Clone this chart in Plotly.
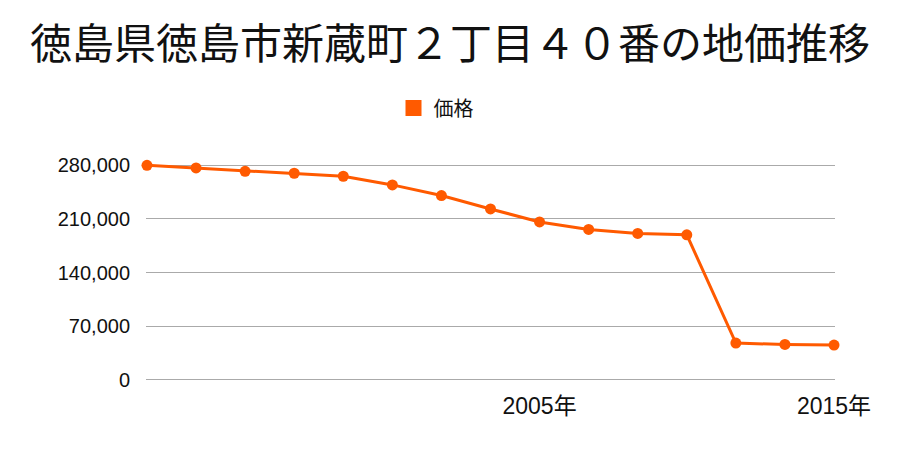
import plotly.graph_objects as go

title = "徳島県徳島市新蔵町２丁目４０番の地価推移"
series_name = "価格"
years = ["1997年", "1998年", "1999年", "2000年", "2001年", "2002年", "2003年", "2004年",
         "2005年", "2007年", "2009年", "2011年", "2013年", "2014年", "2015年"]
prices = [280000, 276500, 272200, 269600, 265700, 254400, 240500, 223000,
          206000, 196300, 191000, 189200, 47800, 46000, 45200]
x_tick_labels = ["2005年", "2015年"]
y_tick_values = [0, 70000, 140000, 210000, 280000]

color = "#FF5A00"
cjk = "Noto Sans CJK JP, sans-serif"
latin = "Liberation Sans, Noto Sans CJK JP, sans-serif"

fig = go.Figure()
fig.add_trace(go.Scatter(
    x=years, y=prices, mode="lines+markers", name=series_name,
    line=dict(color=color, width=3),
    marker=dict(color=color, size=11),
    cliponaxis=False, showlegend=False,
))
fig.add_trace(go.Scatter(
    x=[None], y=[None], mode="markers", name=series_name,
    marker=dict(color=color, size=16, symbol="square"),
    showlegend=True,
))

fig.update_layout(
    width=900, height=450,
    margin=dict(l=146, r=65, t=163, b=68),
    paper_bgcolor="white", plot_bgcolor="white",
    font=dict(family=latin, color="#111", size=22),
    title=dict(text=title, x=0.5, xanchor="center", y=1 - 44 / 450, yanchor="middle",
               font=dict(size=42, family=cjk, color="#111")),
    legend=dict(orientation="h", xref="container", yref="container",
                x=436 / 900, xanchor="center", y=1 - 108 / 450, yanchor="middle",
                font=dict(size=20, family=cjk), itemwidth=30),
    xaxis=dict(type="category", range=[-0.02, len(years) - 1 + 0.02],
               tickmode="array", tickvals=x_tick_labels, ticktext=x_tick_labels,
               showgrid=False, showline=False, zeroline=False, ticks="",
               ticklabelstandoff=8, tickfont=dict(size=23)),
    yaxis=dict(range=[-3000, 283000], tickvals=y_tick_values, tickformat=",d",
               showgrid=True, gridcolor="#aaaaaa", gridwidth=1,
               zeroline=False, showline=False, ticks="",
               ticklabelstandoff=15, tickfont=dict(size=20)),
)

fig.write_html("out.html")
